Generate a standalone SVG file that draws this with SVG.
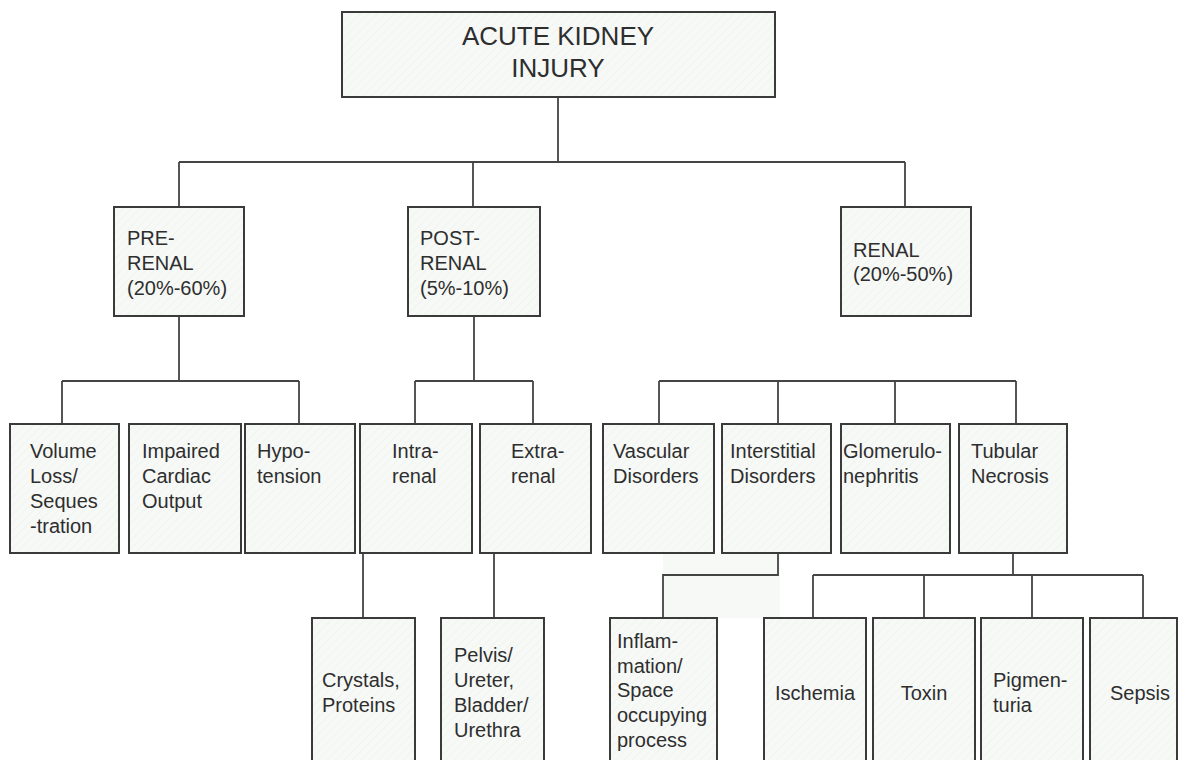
<svg xmlns="http://www.w3.org/2000/svg" width="1181" height="760" viewBox="0 0 1181 760">
<defs>
<pattern id="hatch" width="6" height="6" patternUnits="userSpaceOnUse" patternTransform="rotate(45)">
<rect width="6" height="6" fill="#f7f9f7"/>
<line x1="0" y1="0" x2="0" y2="6" stroke="#f0f4f0" stroke-width="2"/>
</pattern>
<style>
.box{fill:url(#hatch);stroke:#3a3a3a;stroke-width:2}
.ln{fill:none;stroke:#444;stroke-width:1.8}
text{font-family:"Liberation Sans",Arial,sans-serif;font-size:20px;fill:#2e2e2e}
.title{font-size:26px;text-anchor:middle}
.mid{text-anchor:middle}
</style>
</defs>
<rect width="1181" height="760" fill="#fff"/>
<rect x="663" y="554" width="117" height="64" fill="#f7f9f7"/>
<g id="connectors">
<path class="ln" d="M558 97V162M179 162H905M179 162V207M473 162V207M905 162V207"/>
<path class="ln" d="M179 316V381M62 381H299M62 381V424M299 381V424"/>
<path class="ln" d="M474 316V381M415 381H533M415 381V424M533 381V424"/>
<path class="ln" d="M659 381H1016M659 381V424M778 381V424M895 381V424M1016 381V424"/>
<path class="ln" d="M363 553V618M494 553V618"/>
<path class="ln" d="M778 553V575H663V618"/>
<path class="ln" d="M1013 553V575M813 575H1143M813 575V618M924 575V618M1032 575V618M1143 575V618"/>
</g>
<g id="n-aki"><rect class="box" x="342" y="12" width="433" height="85"/><text class="title" x="558" y="45">ACUTE KIDNEY</text><text class="title" x="558" y="77">INJURY</text></g>
<g id="n-prerenal"><rect class="box" x="114" y="207" width="130" height="109"/><text x="127" y="245">PRE-</text><text x="127" y="270">RENAL</text><text x="127" y="295">(20%-60%)</text></g>
<g id="n-postrenal"><rect class="box" x="408" y="207" width="132" height="109"/><text x="420" y="245">POST-</text><text x="420" y="270">RENAL</text><text x="420" y="295">(5%-10%)</text></g>
<g id="n-renal"><rect class="box" x="841" y="207" width="130" height="109"/><text x="853" y="257">RENAL</text><text x="853" y="281">(20%-50%)</text></g>
<g id="n-volume"><rect class="box" x="10" y="424" width="109" height="129"/><text x="30" y="458">Volume</text><text x="30" y="483">Loss/</text><text x="30" y="508">Seques</text><text x="30" y="533">-tration</text></g>
<g id="n-cardiac"><rect class="box" x="129" y="424" width="112" height="129"/><text x="142" y="458">Impaired</text><text x="142" y="483">Cardiac</text><text x="142" y="508">Output</text></g>
<g id="n-hypo"><rect class="box" x="245" y="424" width="110" height="129"/><text x="257" y="458">Hypo-</text><text x="257" y="483">tension</text></g>
<g id="n-intra"><rect class="box" x="360" y="424" width="112" height="129"/><text x="392" y="458">Intra-</text><text x="392" y="483">renal</text></g>
<g id="n-extra"><rect class="box" x="480" y="424" width="111" height="129"/><text x="511" y="458">Extra-</text><text x="511" y="483">renal</text></g>
<g id="n-vascular"><rect class="box" x="603" y="424" width="111" height="129"/><text x="613" y="458">Vascular</text><text x="613" y="483">Disorders</text></g>
<g id="n-interstitial"><rect class="box" x="722" y="424" width="109" height="129"/><text x="730" y="458">Interstitial</text><text x="730" y="483">Disorders</text></g>
<g id="n-glomerulo"><rect class="box" x="841" y="424" width="109" height="129"/><text x="843" y="458">Glomerulo-</text><text x="843" y="483">nephritis</text></g>
<g id="n-tubular"><rect class="box" x="959" y="424" width="108" height="129"/><text x="971" y="458">Tubular</text><text x="971" y="483">Necrosis</text></g>
<g id="n-crystals"><rect class="box" x="312" y="618" width="103" height="150"/><text x="322" y="687">Crystals,</text><text x="322" y="712">Proteins</text></g>
<g id="n-pelvis"><rect class="box" x="441" y="618" width="103" height="150"/><text x="454" y="662">Pelvis/</text><text x="454" y="687">Ureter,</text><text x="454" y="712">Bladder/</text><text x="454" y="737">Urethra</text></g>
<g id="n-inflam"><rect class="box" x="610" y="618" width="107" height="150"/><text x="617" y="648">Inflam-</text><text x="617" y="673">mation/</text><text x="617" y="697">Space</text><text x="617" y="722">occupying</text><text x="617" y="747">process</text></g>
<g id="n-ischemia"><rect class="box" x="764" y="618" width="102" height="150"/><text class="mid" x="815" y="700">Ischemia</text></g>
<g id="n-toxin"><rect class="box" x="873" y="618" width="102" height="150"/><text class="mid" x="924" y="700">Toxin</text></g>
<g id="n-pigment"><rect class="box" x="981" y="618" width="102" height="150"/><text x="993" y="687">Pigmen-</text><text x="993" y="712">turia</text></g>
<g id="n-sepsis"><rect class="box" x="1090" y="618" width="87" height="150"/><text class="mid" x="1140" y="700">Sepsis</text></g>
</svg>
